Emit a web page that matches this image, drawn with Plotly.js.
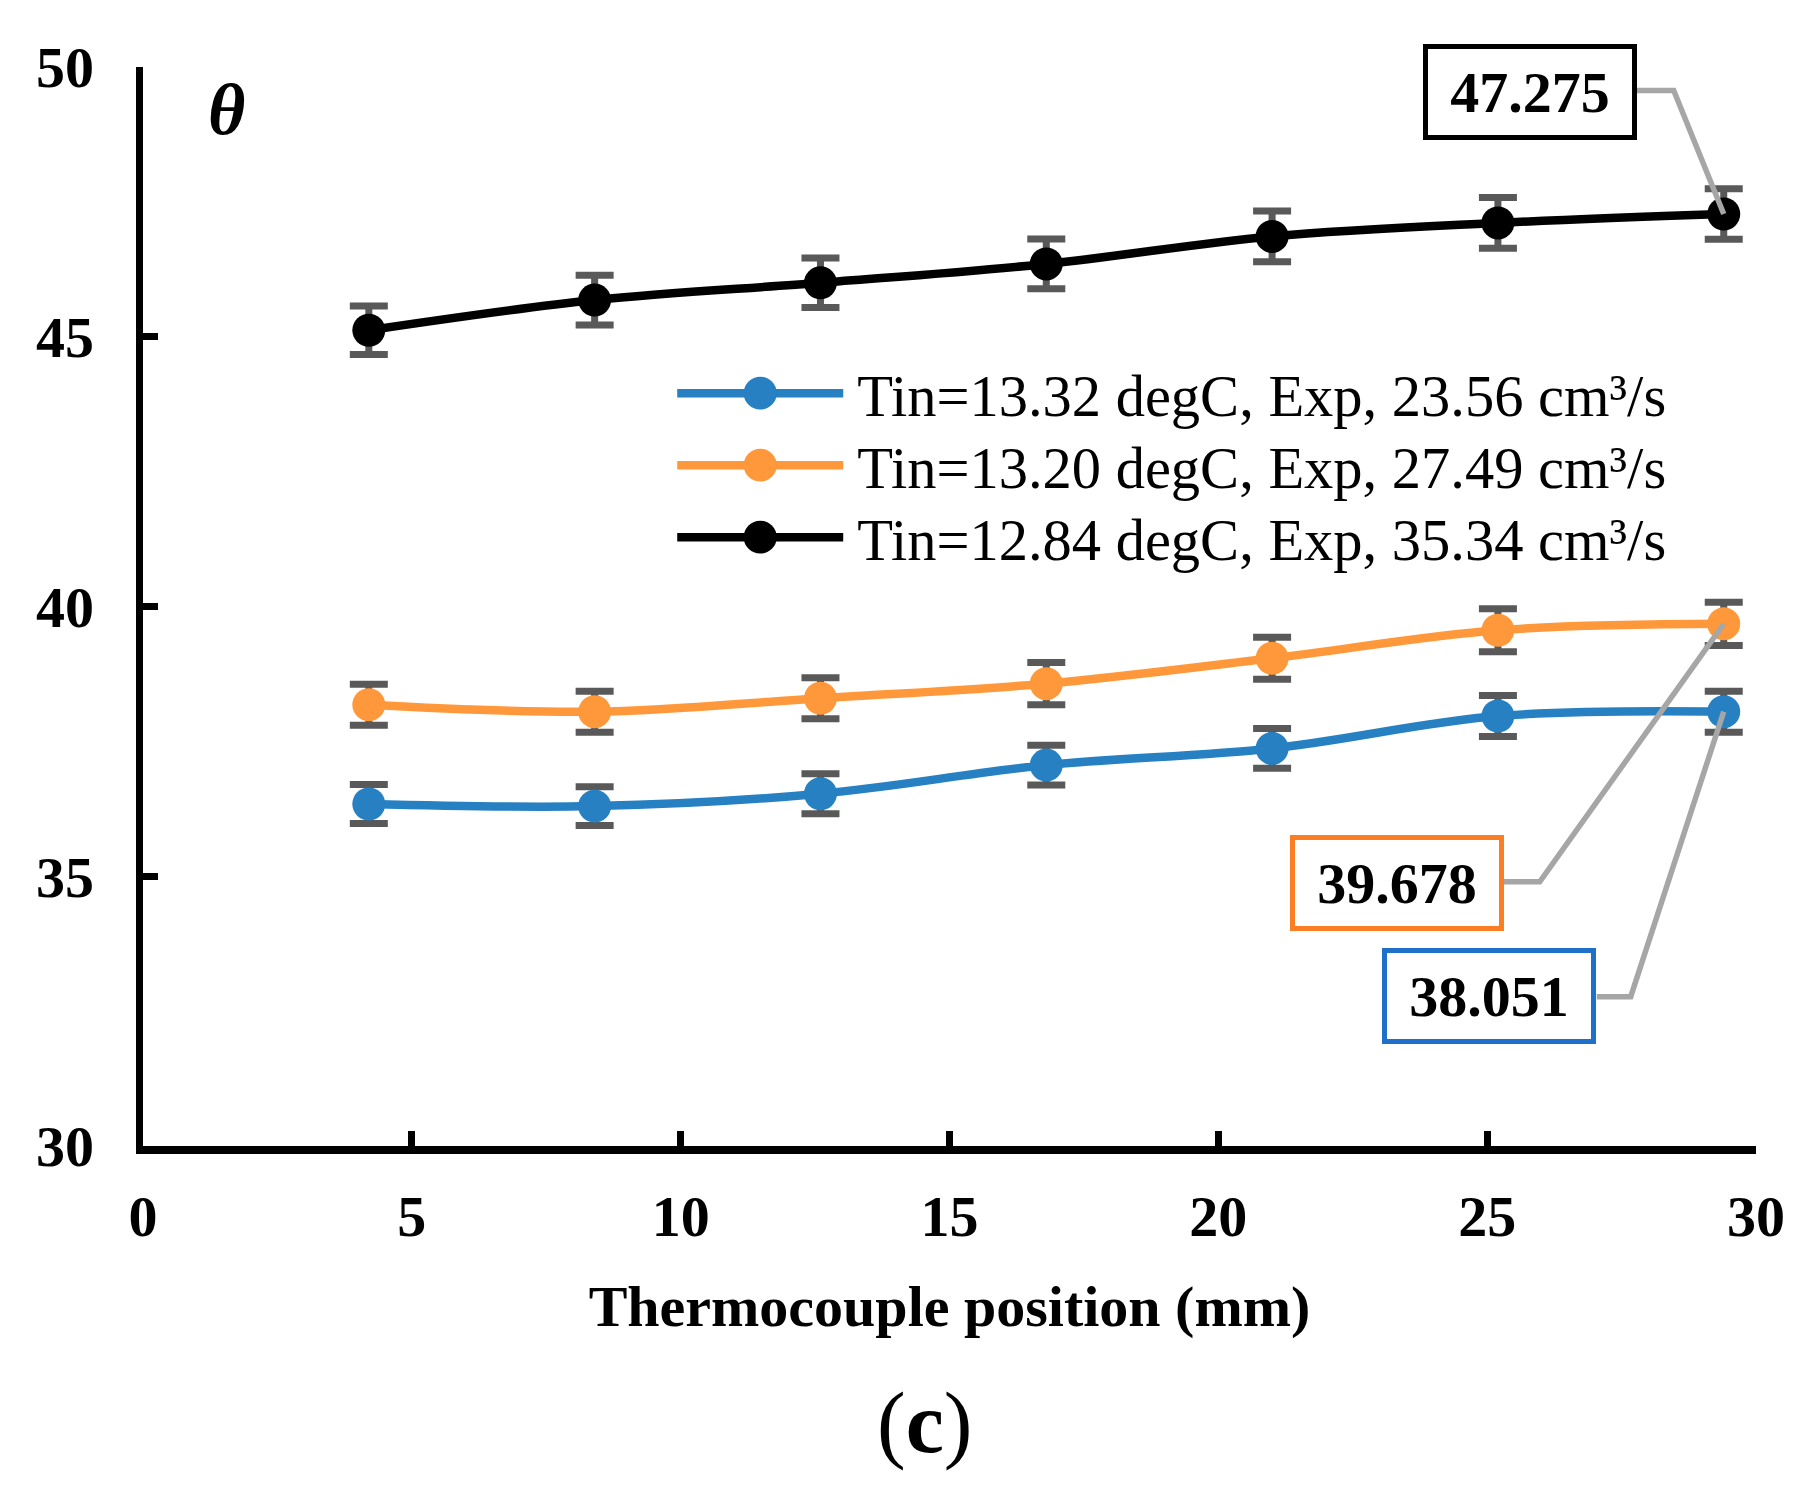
<!DOCTYPE html>
<html>
<head>
<meta charset="utf-8">
<script src="https://cdn.plot.ly/plotly-3.0.1.min.js"></script>
<style>
html,body{margin:0;padding:0;background:#fff;}
#chart{width:1818px;height:1507px;}
</style>
</head>
<body>
<div id="chart"></div>
<script>
// ---- data ----
var positions = [4.2, 8.4, 12.6, 16.8, 21.0, 25.2, 29.4];
var seriesNames = [
  "Tin=13.32 degC, Exp, 23.56 cm³/s",
  "Tin=13.20 degC, Exp, 27.49 cm³/s",
  "Tin=12.84 degC, Exp, 35.34 cm³/s"
];
var thetaBlue   = [36.34, 36.30, 36.53, 37.06, 37.37, 37.97, 38.051];
var thetaOrange = [38.18, 38.05, 38.30, 38.57, 39.04, 39.56, 39.678];
var thetaBlack  = [45.12, 45.68, 46.00, 46.35, 46.86, 47.11, 47.275];
var errBlue   = [0.36, 0.36, 0.37, 0.37, 0.37, 0.38, 0.38];
var errOrange = [0.38, 0.38, 0.38, 0.39, 0.39, 0.40, 0.40];
var errBlack  = [0.45, 0.46, 0.46, 0.46, 0.47, 0.47, 0.47];
var xTicks = [0, 5, 10, 15, 20, 25, 30];
var yTicks = [30, 35, 40, 45, 50];

var SERIF = "Liberation Serif, Times New Roman, serif";
var colBlue = "#2680C2", colOrange = "#FF983A", colBlack = "#000000";

function mkTrace(y, err, name, color) {
  return {
    type: "scatter", mode: "lines+markers", x: positions, y: y, name: name,
    line: {color: color, width: 8.5, shape: "spline", smoothing: 1},
    marker: {color: color, size: 33},
    error_y: {type: "data", array: err, visible: true, color: "#595959", thickness: 7, width: 19}
  };
}
var data = [
  mkTrace(thetaBlue, errBlue, seriesNames[0], colBlue),
  mkTrace(thetaOrange, errOrange, seriesNames[1], colOrange),
  mkTrace(thetaBlack, errBlack, seriesNames[2], colBlack)
];

var last = positions.length - 1;
function valueLabel(xv, yv, border, xs, ys) {
  return {
    xref: "x", yref: "y", x: xv, y: yv, showarrow: false,
    text: "<b>" + yv.toFixed(3) + "</b>", xshift: xs, yshift: ys,
    font: {family: SERIF, size: 58, color: "#000"},
    bgcolor: "#ffffff", bordercolor: border, borderwidth: 5, borderpad: 0,
    width: 204, height: 86
  };
}
function leader(xv, yv, pts) {
  return {
    type: "path", layer: "above", xref: "x", yref: "y",
    xsizemode: "pixel", ysizemode: "pixel", xanchor: xv, yanchor: yv,
    path: "M" + pts[0] + "," + pts[1] + " L" + pts[2] + "," + pts[3] + " L0,0",
    line: {color: "#A6A6A6", width: 5.5}
  };
}

var layout = {
  width: 1818, height: 1507,
  margin: {l: 143, r: 62, t: 67, b: 361},
  paper_bgcolor: "#ffffff", plot_bgcolor: "#ffffff",
  showlegend: true,
  legend: {
    x: 0.325, y: 0.739, xanchor: "left", yanchor: "top",
    bgcolor: "rgba(0,0,0,0)", borderwidth: 0,
    font: {family: SERIF, size: 58.5, color: "#000"},
    itemwidth: 180, tracegroupgap: 0
  },
  xaxis: {
    range: [0, 30], tickmode: "array", tickvals: xTicks,
    showgrid: false, zeroline: false,
    showline: true, linecolor: "#000", linewidth: 7.5,
    ticks: "inside", ticklen: 15, tickwidth: 7, tickcolor: "#000",
    ticklabelstandoff: 13,
    tickfont: {family: SERIF, size: 58, color: "#000", weight: "bold"},
    title: {text: "Thermocouple position (mm)", standoff: 40,
            font: {family: SERIF, size: 58, color: "#000", weight: "bold"}},
    automargin: true
  },
  yaxis: {
    range: [30, 50], tickmode: "array", tickvals: yTicks,
    showgrid: false, zeroline: false,
    showline: true, linecolor: "#000", linewidth: 7.5,
    ticks: "inside", ticklen: 15, tickwidth: 7, tickcolor: "#000",
    ticklabelstandoff: 30,
    tickfont: {family: SERIF, size: 58, color: "#000", weight: "bold"},
    automargin: false
  },
  annotations: [
    {xref: "paper", yref: "paper", x: 0.039, y: 0.9995, showarrow: false,
     text: "<b><i>θ</i></b>", font: {family: SERIF, size: 72, color: "#000"}},
    {xref: "paper", yref: "paper", x: 0.4848, y: -0.3035, showarrow: false,
     text: "(<b>c</b>)", font: {family: SERIF, size: 86, color: "#000"}},
    valueLabel(positions[last], thetaBlack[last], "#000000", -193.5, 122),
    valueLabel(positions[last], thetaOrange[last], "#FB7E25", -326.5, -259.5),
    valueLabel(positions[last], thetaBlue[last], "#1F70C8", -234.5, -284.5)
  ],
  shapes: [
    leader(positions[last], thetaBlack[last], [-87, 123.5, -50, 123.5]),
    leader(positions[last], thetaOrange[last], [-220, -258, -184, -258]),
    leader(positions[last], thetaBlue[last], [-127, -285, -93, -285])
  ]
};

Plotly.newPlot("chart", data, layout, {staticPlot: true, displayModeBar: false}).then(function (gd) {
  // enlarge legend symbols and tighten row spacing to match the reference
  var items = gd.querySelectorAll(".legend .traces");
  var y0 = null;
  items.forEach(function (it, i) {
    var tr = it.getAttribute("transform") || "";
    var m = tr.match(/translate\(\s*([-\d.e]+)[ ,]+([-\d.e]+)\s*\)/);
    if (m) {
      var tx0 = parseFloat(m[1]), ty = parseFloat(m[2]);
      if (y0 === null) y0 = ty;
      it.setAttribute("transform", "translate(" + tx0 + "," + (y0 + i * 72) + ")");
    }
    var txt = it.querySelector("text.legendtext");
    var tx = txt ? parseFloat(txt.getAttribute("x")) : 190;
    var end = tx - 14, len = 166, mid = end - len / 2;
    it.querySelectorAll(".legendlines path").forEach(function (p) {
      p.setAttribute("d", "M" + (end - len) + ",0h" + len);
      p.style.strokeWidth = "8.5px";
    });
    it.querySelectorAll(".legendpoints path.scatterpts").forEach(function (p) {
      p.setAttribute("transform", "translate(" + mid + ",0) scale(2.06)");
    });
  });
});
</script>
</body>
</html>
